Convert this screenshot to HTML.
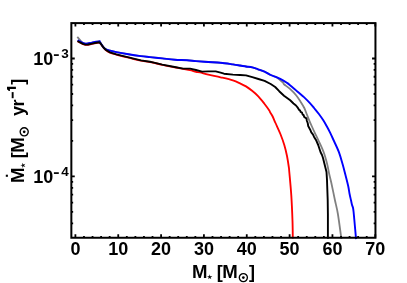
<!DOCTYPE html>
<html><head><meta charset="utf-8"><style>
html,body{margin:0;padding:0;background:#fff;}
svg{display:block;will-change:transform;}
text{font-family:"Liberation Sans",sans-serif;font-weight:bold;fill:#000;}
</style></head><body>
<svg width="407" height="283" viewBox="0 0 407 283">
<rect width="407" height="283" fill="#fff"/>
<g fill="none" stroke-linejoin="round" stroke-linecap="butt">
<path d="M77.50,41.25 C77.92,41.47 79.08,42.08 80.00,42.55 C80.92,43.02 82.08,43.67 83.00,44.05 C83.92,44.43 84.67,44.73 85.50,44.85 C86.33,44.97 86.92,44.92 88.00,44.75 C89.08,44.58 90.67,44.13 92.00,43.85 C93.33,43.57 94.75,43.27 96.00,43.05 C97.25,42.83 98.67,42.35 99.50,42.55 C100.33,42.75 100.33,43.38 101.00,44.25 C101.67,45.12 102.67,46.75 103.50,47.75 C104.33,48.75 104.92,49.43 106.00,50.25 C107.08,51.07 108.28,51.93 110.00,52.65 C111.72,53.37 113.20,53.72 116.30,54.55 C119.40,55.38 124.50,56.63 128.60,57.65 C132.70,58.67 137.33,59.92 140.90,60.65 C144.47,61.38 147.82,61.68 150.00,62.05 C152.18,62.42 151.95,62.38 154.00,62.85 C156.05,63.32 158.87,64.12 162.30,64.85 C165.73,65.58 171.15,66.58 174.60,67.25 C178.05,67.92 180.43,68.38 183.00,68.85 C185.57,69.32 187.83,69.61 190.00,70.10 C192.17,70.59 194.33,71.42 196.00,71.80 C197.67,72.18 197.95,71.93 200.00,72.40 C202.05,72.87 204.87,73.78 208.30,74.60 C211.73,75.42 216.50,76.33 220.60,77.30 C224.70,78.27 229.67,79.40 232.90,80.40 C236.13,81.40 237.82,82.30 240.00,83.30 C242.18,84.30 243.98,85.15 246.00,86.40 C248.02,87.65 250.05,89.15 252.10,90.80 C254.15,92.45 256.25,94.15 258.30,96.30 C260.35,98.45 262.57,101.35 264.40,103.70 C266.23,106.05 268.37,109.02 269.30,110.40 C270.23,111.78 269.48,111.07 270.00,112.00 C270.52,112.93 271.48,114.17 272.40,116.00 C273.32,117.83 274.17,120.00 275.50,123.00 C276.83,126.00 278.93,130.33 280.40,134.00 C281.87,137.67 283.20,141.33 284.30,145.00 C285.40,148.67 286.25,152.33 287.00,156.00 C287.75,159.67 288.42,164.33 288.80,167.00 C289.18,169.67 288.88,167.27 289.30,172.00 C289.72,176.73 290.77,187.23 291.30,195.40 C291.83,203.57 292.25,213.80 292.50,221.00 C292.75,228.20 292.75,235.67 292.80,238.60" stroke="#ff0000" stroke-width="1.85"/>
<path d="M77.30,36.80 C77.83,37.42 79.55,39.48 80.50,40.50 C81.45,41.52 82.17,42.38 83.00,42.90 C83.83,43.42 84.67,43.50 85.50,43.60 C86.33,43.70 86.92,43.67 88.00,43.50 C89.08,43.33 90.67,42.88 92.00,42.60 C93.33,42.32 94.75,42.00 96.00,41.80 C97.25,41.60 98.92,41.47 99.50,41.40 C100.08,41.33 99.27,41.05 99.50,41.40 C99.73,41.75 100.27,42.55 100.90,43.50 C101.53,44.45 102.45,46.13 103.30,47.10 C104.15,48.07 104.88,48.72 106.00,49.30 C107.12,49.88 108.28,50.13 110.00,50.60 C111.72,51.07 113.20,51.48 116.30,52.10 C119.40,52.72 124.50,53.63 128.60,54.30 C132.70,54.97 137.33,55.63 140.90,56.10 C144.47,56.57 146.43,56.72 150.00,57.10 C153.57,57.48 158.20,57.97 162.30,58.40 C166.40,58.83 170.50,59.40 174.60,59.70 C178.70,60.00 183.33,59.97 186.90,60.20 C190.47,60.43 192.43,60.80 196.00,61.10 C199.57,61.40 204.20,61.72 208.30,62.00 C212.40,62.28 216.50,62.40 220.60,62.80 C224.70,63.20 229.67,63.95 232.90,64.40 C236.13,64.85 237.82,65.15 240.00,65.50 C242.18,65.85 243.95,66.18 246.00,66.50 C248.05,66.82 250.30,66.93 252.30,67.40 C254.30,67.87 255.95,68.58 258.00,69.30 C260.05,70.02 262.48,70.75 264.60,71.70 C266.72,72.65 268.65,74.02 270.70,75.00 C272.75,75.98 274.85,76.32 276.90,77.60 C278.95,78.88 281.82,81.58 283.00,82.70 C284.18,83.82 282.83,83.27 284.00,84.30 C285.17,85.33 287.95,87.03 290.00,88.90 C292.05,90.77 294.47,93.25 296.30,95.50 C298.13,97.75 299.67,100.32 301.00,102.40 C302.33,104.48 303.35,106.07 304.30,108.00 C305.25,109.93 305.88,111.95 306.70,114.00 C307.52,116.05 308.33,118.22 309.20,120.30 C310.07,122.38 310.98,124.45 311.90,126.50 C312.82,128.55 313.60,130.27 314.70,132.60 C315.80,134.93 317.00,137.22 318.50,140.50 C320.00,143.78 322.23,148.28 323.70,152.30 C325.17,156.32 326.38,160.98 327.30,164.60 C328.22,168.22 328.53,170.98 329.20,174.00 C329.87,177.02 330.35,178.37 331.30,182.70 C332.25,187.03 333.80,194.78 334.90,200.00 C336.00,205.22 336.82,207.50 337.90,214.00 C338.98,220.50 340.82,234.83 341.40,239.00" stroke="#808080" stroke-width="1.8"/>
<path d="M77.70,40.20 C78.08,40.40 79.12,40.95 80.00,41.40 C80.88,41.85 82.08,42.53 83.00,42.90 C83.92,43.27 84.67,43.50 85.50,43.60 C86.33,43.70 86.92,43.67 88.00,43.50 C89.08,43.33 90.67,42.88 92.00,42.60 C93.33,42.32 94.75,42.00 96.00,41.80 C97.25,41.60 98.92,41.47 99.50,41.40 C100.08,41.33 99.27,41.05 99.50,41.40 C99.73,41.75 100.27,42.55 100.90,43.50 C101.53,44.45 102.45,46.13 103.30,47.10 C104.15,48.07 104.88,48.72 106.00,49.30 C107.12,49.88 108.28,50.13 110.00,50.60 C111.72,51.07 113.20,51.48 116.30,52.10 C119.40,52.72 124.50,53.63 128.60,54.30 C132.70,54.97 137.33,55.63 140.90,56.10 C144.47,56.57 146.43,56.72 150.00,57.10 C153.57,57.48 158.20,57.97 162.30,58.40 C166.40,58.83 170.50,59.40 174.60,59.70 C178.70,60.00 183.33,59.97 186.90,60.20 C190.47,60.43 192.43,60.80 196.00,61.10 C199.57,61.40 204.20,61.72 208.30,62.00 C212.40,62.28 216.50,62.40 220.60,62.80 C224.70,63.20 229.67,63.95 232.90,64.40 C236.13,64.85 237.82,65.15 240.00,65.50 C242.18,65.85 243.95,66.18 246.00,66.50 C248.05,66.82 250.30,66.93 252.30,67.40 C254.30,67.87 255.95,68.58 258.00,69.30 C260.05,70.02 262.48,70.75 264.60,71.70 C266.72,72.65 268.65,74.05 270.70,75.00 C272.75,75.95 274.85,76.52 276.90,77.40 C278.95,78.28 281.32,79.38 283.00,80.30 C284.68,81.22 285.83,82.08 287.00,82.90 C288.17,83.72 288.45,83.92 290.00,85.20 C291.55,86.48 293.80,88.45 296.30,90.60 C298.80,92.75 302.55,95.82 305.00,98.10 C307.45,100.38 309.48,102.65 311.00,104.30 C312.52,105.95 312.78,106.38 314.10,108.00 C315.42,109.62 317.37,111.95 318.90,114.00 C320.43,116.05 321.97,118.22 323.30,120.30 C324.63,122.38 325.77,124.45 326.90,126.50 C328.03,128.55 329.00,130.35 330.10,132.60 C331.20,134.85 332.02,136.72 333.50,140.00 C334.98,143.28 337.47,148.20 339.00,152.30 C340.53,156.40 341.67,160.98 342.70,164.60 C343.73,168.22 344.28,170.43 345.20,174.00 C346.12,177.57 347.47,182.67 348.20,186.00 C348.93,189.33 349.13,191.62 349.60,194.00 C350.07,196.38 350.59,198.47 351.00,200.30 C351.41,202.13 351.72,203.75 352.05,205.00 C352.38,206.25 352.74,206.63 353.00,207.80 C353.26,208.97 353.38,209.97 353.60,212.00 C353.83,214.03 353.94,215.48 354.35,220.00 C354.76,224.52 355.77,235.92 356.05,239.10" stroke="#0000ff" stroke-width="1.9"/>
<path d="M77.5,41.0 L80.0,42.3 L83.0,43.8 L85.5,44.6 L88.0,44.5 L92.0,43.6 L96.0,42.8 L99.5,42.3 L101.0,44.0 L103.5,47.5 L106.0,50.0 L110.0,52.4 L116.3,54.3 L128.6,57.4 L140.9,60.4 L150.0,61.8 L154.0,62.6 L162.3,64.6 L174.6,67.0 L183.0,68.6 L190.0,68.6 L196.0,70.0 L202.0,71.6 L208.3,71.4 L215.7,71.4 L220.6,72.7 L224.0,73.7 L232.9,74.6 L240.0,75.0 L246.0,75.4 L252.3,77.2 L258.4,79.0 L264.6,80.9 L270.7,84.0 L275.2,87.0 L279.2,91.2 L284.0,95.7 L287.8,98.5 L290.2,100.3 L293.5,103.5 L296.0,105.5 L297.5,107.3 L299.0,109.8 L300.0,110.3 L300.6,111.9 L302.0,112.6 L302.6,114.6 L303.7,115.2 L304.2,117.0 L306.4,118.4 L306.9,121.0 L307.7,123.0 L308.2,126.0 L310.2,129.7 L311.3,132.3 L312.9,134.3 L314.1,136.9 L316.3,140.6 L318.2,145.0 L320.6,152.3 L322.0,155.0 L323.0,158.0 L325.0,166.0 L326.5,172.0 L327.0,180.0 L327.2,186.0 L327.7,200.0 L327.9,214.0 L327.9,238.8" stroke="#000000" stroke-width="1.9"/>
</g>
<rect x="71.35" y="23.10" width="304.10" height="214.65" fill="none" stroke="#000" stroke-width="2"/>
<path d="M75.40,237.75 v-3.40 M75.40,23.10 v3.40 M83.97,237.75 v-1.80 M83.97,23.10 v1.80 M92.54,237.75 v-1.80 M92.54,23.10 v1.80 M101.10,237.75 v-1.80 M101.10,23.10 v1.80 M109.67,237.75 v-1.80 M109.67,23.10 v1.80 M118.24,237.75 v-3.40 M118.24,23.10 v3.40 M126.81,237.75 v-1.80 M126.81,23.10 v1.80 M135.38,237.75 v-1.80 M135.38,23.10 v1.80 M143.94,237.75 v-1.80 M143.94,23.10 v1.80 M152.51,237.75 v-1.80 M152.51,23.10 v1.80 M161.08,237.75 v-3.40 M161.08,23.10 v3.40 M169.65,237.75 v-1.80 M169.65,23.10 v1.80 M178.22,237.75 v-1.80 M178.22,23.10 v1.80 M186.78,237.75 v-1.80 M186.78,23.10 v1.80 M195.35,237.75 v-1.80 M195.35,23.10 v1.80 M203.92,237.75 v-3.40 M203.92,23.10 v3.40 M212.49,237.75 v-1.80 M212.49,23.10 v1.80 M221.06,237.75 v-1.80 M221.06,23.10 v1.80 M229.62,237.75 v-1.80 M229.62,23.10 v1.80 M238.19,237.75 v-1.80 M238.19,23.10 v1.80 M246.76,237.75 v-3.40 M246.76,23.10 v3.40 M255.33,237.75 v-1.80 M255.33,23.10 v1.80 M263.90,237.75 v-1.80 M263.90,23.10 v1.80 M272.46,237.75 v-1.80 M272.46,23.10 v1.80 M281.03,237.75 v-1.80 M281.03,23.10 v1.80 M289.60,237.75 v-3.40 M289.60,23.10 v3.40 M298.17,237.75 v-1.80 M298.17,23.10 v1.80 M306.74,237.75 v-1.80 M306.74,23.10 v1.80 M315.30,237.75 v-1.80 M315.30,23.10 v1.80 M323.87,237.75 v-1.80 M323.87,23.10 v1.80 M332.44,237.75 v-3.40 M332.44,23.10 v3.40 M341.01,237.75 v-1.80 M341.01,23.10 v1.80 M349.58,237.75 v-1.80 M349.58,23.10 v1.80 M358.14,237.75 v-1.80 M358.14,23.10 v1.80 M366.71,237.75 v-1.80 M366.71,23.10 v1.80 M375.28,237.75 v-3.40 M375.28,23.10 v3.40 M71.35,223.32 h1.80 M375.45,223.32 h-1.80 M71.35,211.89 h1.80 M375.45,211.89 h-1.80 M71.35,202.56 h1.80 M375.45,202.56 h-1.80 M71.35,194.66 h1.80 M375.45,194.66 h-1.80 M71.35,187.83 h1.80 M375.45,187.83 h-1.80 M71.35,181.79 h1.80 M375.45,181.79 h-1.80 M71.35,176.40 h3.40 M375.45,176.40 h-3.40 M71.35,140.91 h1.80 M375.45,140.91 h-1.80 M71.35,120.15 h1.80 M375.45,120.15 h-1.80 M71.35,105.42 h1.80 M375.45,105.42 h-1.80 M71.35,93.99 h1.80 M375.45,93.99 h-1.80 M71.35,84.66 h1.80 M375.45,84.66 h-1.80 M71.35,76.76 h1.80 M375.45,76.76 h-1.80 M71.35,69.93 h1.80 M375.45,69.93 h-1.80 M71.35,63.89 h1.80 M375.45,63.89 h-1.80 M71.35,58.50 h3.40 M375.45,58.50 h-3.40" stroke="#000" stroke-width="1.8" fill="none"/>
<g font-size="18"><text x="75.4" y="255.0" text-anchor="middle">0</text><text x="118.2" y="255.0" text-anchor="middle">10</text><text x="161.1" y="255.0" text-anchor="middle">20</text><text x="203.9" y="255.0" text-anchor="middle">30</text><text x="246.8" y="255.0" text-anchor="middle">40</text><text x="289.6" y="255.0" text-anchor="middle">50</text><text x="332.4" y="255.0" text-anchor="middle">60</text><text x="375.3" y="255.0" text-anchor="middle">70</text></g>
<g font-size="18">
<text x="33.2" y="64.8">10</text><rect x="53.9" y="54.25" width="4.9" height="1.7"/><text x="61.3" y="57.9" font-size="13.5">3</text>
<text x="33.2" y="182.8">10</text><rect x="53.9" y="172.25" width="4.9" height="1.7"/><text x="61.3" y="175.9" font-size="13.5">4</text>
</g>
<g transform="translate(193.4,278.0)"><g font-size="18">
<text x="-1.3" y="0" transform="scale(1.035 1)">M</text>
<path transform="translate(16.3,-0.9)" d="M0,-2.8 L0.55,-0.76 L2.66,-0.86 L0.9,0.29 L1.65,2.27 L0,0.95 L-1.65,2.27 L-0.9,0.29 L-2.66,-0.86 L-0.55,-0.76 Z" fill="#000"/>
<text x="23.3" y="0">[</text>
<text x="27.95" y="0" transform="scale(1.035 1)">M</text>
</g><g transform="translate(49.95,-0.4)"><circle cx="0" cy="0" r="4.05" fill="none" stroke="#000" stroke-width="1.35"/><circle cx="0" cy="0" r="1.35" fill="#000"/></g><text x="55.5" y="0" font-size="18">]</text></g>
<g transform="translate(24.0,181.6) rotate(-90)"><g font-size="18">
<text x="-1.3" y="0" transform="scale(1.035 1)">M</text>
<path transform="translate(16.3,-0.9)" d="M0,-2.8 L0.55,-0.76 L2.66,-0.86 L0.9,0.29 L1.65,2.27 L0,0.95 L-1.65,2.27 L-0.9,0.29 L-2.66,-0.86 L-0.55,-0.76 Z" fill="#000"/>
<text x="23.3" y="0">[</text>
<text x="27.95" y="0" transform="scale(1.035 1)">M</text>
</g><g transform="translate(49.8,0.2)"><circle cx="0" cy="0" r="4.05" fill="none" stroke="#000" stroke-width="1.35"/><circle cx="0" cy="0" r="1.35" fill="#000"/></g>
<rect x="4.8" y="-18.2" width="2.1" height="2.1" fill="#000"/>
<g font-size="18"><text x="65.5" y="0">y</text><text x="75.2" y="0">r</text><rect x="83.4" y="-12.3" width="6.1" height="1.9"/><path d="M92.7,-8.1 V-14.1 H90.7 V-15.4 Q91.8,-15.6 92.0,-17.0 H94.8 V-8.1 Z"/><text x="96.8" y="0">]</text></g>
</g>
</svg>
</body></html>
